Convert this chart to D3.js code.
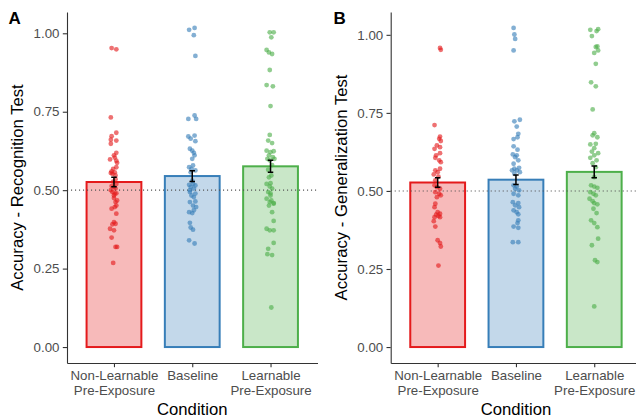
<!DOCTYPE html>
<html>
<head>
<meta charset="utf-8">
<script src="https://cdn.jsdelivr.net/npm/d3@7"></script>
<style>
body { margin: 0; background: #fff; }
svg { display: block; font-family: "Liberation Sans", Arial, sans-serif; }
</style>
</head>
<body>
<div id="chart"></div>
<script>
let width = 636;
let height = 419;

let conditions = [["Non-Learnable", "Pre-Exposure"], ["Baseline"], ["Learnable", "Pre-Exposure"]];
let colours = ["#E41A1C", "#377EB8", "#4DAF4A"];
let yTicks = [0, 0.25, 0.5, 0.75, 1];
let chance = 0.5;

// bar heights and standard errors
let recogMeans = [0.526, 0.545, 0.576];
let recogSE = [0.015, 0.017, 0.019];
let genMeans = [0.527, 0.536, 0.561];
let genSE = [0.015, 0.015, 0.019];

// participants: [jitter (in category units), accuracy]
let recogNonLearnable = [
    [-0.03, 0.953], [0.03, 0.949], [-0.04, 0.732], [0.03, 0.683], [-0.03, 0.672], [-0.04, 0.661],
    [0.03, 0.658], [-0.04, 0.648], [0.03, 0.619], [0, 0.611], [0.01, 0.604], [-0.05, 0.598],
    [0.03, 0.594], [0.03, 0.573], [-0.01, 0.568], [-0.04, 0.555], [0.01, 0.557], [-0.02, 0.552],
    [0.02, 0.547], [-0.03, 0.513], [0, 0.510], [0.02, 0.505], [-0.02, 0.494], [0.01, 0.489],
    [0, 0.483], [0.04, 0.467], [0.02, 0.462], [0.03, 0.451], [0.01, 0.446], [-0.03, 0.441],
    [0.03, 0.425], [0, 0.398], [0.02, 0.393], [-0.02, 0.391], [-0.05, 0.377], [0, 0.372],
    [-0.03, 0.349], [0.02, 0.319], [0.04, 0.319], [-0.01, 0.268], [0.03, 0.520], [-0.01, 0.527],
    [-0.04, 0.500], [0.03, 0.490], [0, 0.475], [0.02, 0.535], [-0.03, 0.560], [0.04, 0.587]
];
let recogBaseline = [
    [-0.04, 1.011], [0.03, 1.017], [0.02, 0.994], [0.04, 0.928], [-0.05, 0.727], [0.03, 0.738],
    [0.05, 0.727], [-0.05, 0.671], [-0.02, 0.664], [0.03, 0.674], [0.04, 0.656], [-0.03, 0.632],
    [0, 0.626], [0.02, 0.619], [0.03, 0.611], [-0.04, 0.573], [0.01, 0.579], [0.04, 0.563],
    [-0.02, 0.557], [-0.01, 0.568], [-0.04, 0.517], [0.01, 0.520], [0.04, 0.515], [-0.02, 0.510],
    [0.02, 0.505], [-0.03, 0.494], [0.04, 0.489], [-0.01, 0.483], [0.04, 0.464], [-0.03, 0.462],
    [0.01, 0.451], [0.05, 0.446], [-0.04, 0.430], [0, 0.427], [0.02, 0.436], [-0.03, 0.396],
    [-0.02, 0.381], [0.01, 0.374], [-0.04, 0.340], [0.03, 0.330], [0, 0.530], [-0.03, 0.500],
    [0.02, 0.478], [0, 0.600]
];
let recogLearnable = [
    [-0.01, 1.003], [0.04, 1.003], [0.01, 0.987], [-0.05, 0.947], [-0.02, 0.939], [0.02, 0.934],
    [-0.01, 0.883], [-0.05, 0.835], [0.03, 0.831], [0, 0.768], [-0.01, 0.676], [-0.03, 0.658],
    [0.02, 0.650], [-0.05, 0.626], [0, 0.621], [0.04, 0.624], [-0.02, 0.611], [0.03, 0.605],
    [-0.04, 0.600], [0.05, 0.600], [-0.01, 0.595], [0.01, 0.547], [-0.02, 0.541], [-0.05, 0.520],
    [0, 0.522], [-0.01, 0.512], [0.02, 0.505], [-0.03, 0.494], [0, 0.483], [-0.05, 0.473],
    [-0.01, 0.462], [0.04, 0.459], [-0.02, 0.451], [0.01, 0.467], [0.04, 0.457], [0.02, 0.430],
    [0.04, 0.402], [-0.05, 0.377], [-0.01, 0.372], [0.04, 0.372], [0.04, 0.332], [-0.03, 0.313],
    [-0.04, 0.296], [0.02, 0.293], [0.01, 0.126], [0.02, 0.580], [-0.03, 0.565], [0, 0.490]
];

let genNonLearnable = [
    [0.03, 0.958], [0.04, 0.952], [-0.04, 0.711], [0.03, 0.674], [0.02, 0.667], [0.04, 0.660],
    [-0.01, 0.646], [-0.04, 0.635], [0.03, 0.640], [0.03, 0.621], [-0.02, 0.614], [-0.03, 0.606],
    [0.02, 0.598], [0.04, 0.592], [0.03, 0.571], [-0.03, 0.566], [0, 0.560], [-0.05, 0.553],
    [0.01, 0.546], [-0.03, 0.534], [-0.04, 0.518], [-0.01, 0.512], [0.03, 0.507], [-0.03, 0.496],
    [0.02, 0.491], [0.04, 0.486], [-0.01, 0.480], [-0.03, 0.459], [-0.04, 0.448], [0, 0.432],
    [0.03, 0.427], [-0.02, 0.424], [-0.04, 0.416], [0.01, 0.420], [-0.05, 0.403], [-0.03, 0.386],
    [0.03, 0.416], [0, 0.342], [0.03, 0.333], [0.04, 0.322], [0.01, 0.261]
];
let genBaseline = [
    [-0.03, 1.022], [-0.02, 1.001], [-0.01, 0.987], [-0.03, 0.950], [-0.02, 0.723], [0.05, 0.728],
    [0.01, 0.706], [0.03, 0.683], [0.02, 0.672], [-0.03, 0.666], [-0.03, 0.643], [0.02, 0.632],
    [-0.04, 0.617], [-0.01, 0.608], [0.01, 0.614], [0.03, 0.598], [-0.03, 0.587], [-0.02, 0.571],
    [0.04, 0.574], [0.01, 0.566], [0.05, 0.560], [-0.05, 0.566], [-0.02, 0.555], [-0.03, 0.518],
    [0.01, 0.514], [-0.01, 0.507], [0.04, 0.502], [-0.03, 0.491], [0.03, 0.486], [-0.04, 0.464],
    [0.03, 0.461], [-0.01, 0.454], [0.04, 0.448], [-0.03, 0.438], [0.01, 0.432], [0.03, 0.425],
    [0.03, 0.406], [0.02, 0.397], [-0.03, 0.386], [0.03, 0.382], [-0.04, 0.336], [0.03, 0.336]
];
let genLearnable = [
    [-0.05, 1.016], [0.05, 1.018], [0.03, 1.012], [-0.03, 0.996], [0.04, 0.963], [0.02, 0.961],
    [0.05, 0.950], [0, 0.942], [0.02, 0.907], [-0.04, 0.848], [0.02, 0.835], [-0.02, 0.761],
    [0, 0.685], [-0.02, 0.678], [0.04, 0.672], [-0.05, 0.649], [0.02, 0.651], [0, 0.637],
    [-0.03, 0.626], [0.05, 0.621], [0, 0.614], [-0.05, 0.606], [0.03, 0.598], [-0.02, 0.589],
    [0.02, 0.576], [0, 0.544], [-0.04, 0.518], [0, 0.514], [0.04, 0.510], [-0.05, 0.496],
    [-0.01, 0.491], [0.02, 0.486], [-0.06, 0.475], [-0.02, 0.467], [0, 0.461], [0.04, 0.457],
    [-0.01, 0.443], [0.03, 0.429], [-0.04, 0.406], [0, 0.397], [0.04, 0.384], [0.05, 0.347],
    [-0.03, 0.326], [0.01, 0.278], [0.04, 0.272], [0, 0.130]
];

let tickColour = "#4D4D4D";
let axisColour = "#333";

function drawPanel(svg, props) {
    let g = svg.append('g');

    let x = d3.scaleLinear().domain([0.4, 3.6]).range([props.left, props.left + props.panelWidth]);

    // ggplot-style 5% expansion around [0, max]
    let hi = d3.max(props.groups, grp => d3.max(grp, d => d[1]));
    let y = d3.scaleLinear().domain([-0.05 * hi, hi * 1.05]).range([props.bottom, props.top]);

    let barW = 0.7;
    g.append('g').selectAll('rect')
        .data(props.means)
        .enter().append('rect')
        .attr('x', (d, i) => x(i + 1 - barW / 2))
        .attr('width', x(1 + barW / 2) - x(1 - barW / 2))
        .attr('y', d => y(d))
        .attr('height', d => y(0) - y(d))
        .attr('fill', (d, i) => colours[i])
        .attr('fill-opacity', 0.3)
        .attr('stroke', (d, i) => colours[i])
        .attr('stroke-width', 2);

    g.append('line')
        .attr('x1', props.left).attr('x2', props.left + props.panelWidth)
        .attr('y1', y(chance)).attr('y2', y(chance))
        .attr('stroke', '#555')
        .attr('stroke-width', 1.1)
        .attr('stroke-dasharray', '1.1,2.9');

    props.groups.forEach((grp, i) => {
        g.append('g').selectAll('circle')
            .data(grp)
            .enter().append('circle')
            .attr('cx', d => x(i + 1 + d[0]))
            .attr('cy', d => y(d[1]))
            .attr('r', 2.4)
            .attr('fill', colours[i])
            .attr('fill-opacity', 0.62);
    });

    let capW = 0.035;
    let eb = g.append('g').attr('stroke', '#000').attr('stroke-width', 1.5).attr('fill', 'none');
    props.means.forEach((m, i) => {
        let lo = y(m - props.se[i]), up = y(m + props.se[i]);
        eb.append('path')
            .attr('d', `M${x(i + 1 - capW)},${up}H${x(i + 1 + capW)}M${x(i + 1)},${up}V${lo}M${x(i + 1 - capW)},${lo}H${x(i + 1 + capW)}`);
    });

    // axes
    let yAxis = g.append('g')
        .attr('transform', `translate(${props.left},0)`)
        .call(d3.axisLeft(y).tickValues(yTicks).tickFormat(d3.format('.2f'))
            .tickSize(4.2).tickPadding(3.3).tickSizeOuter(0));
    yAxis.select('.domain').attr('stroke', axisColour).attr('stroke-width', 1.1);
    yAxis.selectAll('.tick line').attr('stroke', axisColour).attr('stroke-width', 1.1);
    yAxis.selectAll('.tick text').attr('fill', tickColour).style('font-size', '13.3px');

    let xAxis = g.append('g')
        .attr('transform', `translate(0,${props.bottom})`)
        .call(d3.axisBottom(x).tickValues([1, 2, 3]).tickFormat('').tickSize(4.2).tickSizeOuter(0));
    xAxis.select('.domain').attr('stroke', axisColour).attr('stroke-width', 1.1);
    xAxis.selectAll('.tick line').attr('stroke', axisColour).attr('stroke-width', 1.1);
    xAxis.selectAll('.tick text').remove();
    xAxis.selectAll('.tick').each(function (d) {
        let t = d3.select(this).append('text')
            .attr('fill', tickColour)
            .attr('text-anchor', 'middle')
            .style('font-size', '13.3px');
        conditions[d - 1].forEach((line, k) => {
            t.append('tspan').attr('x', 0).attr('y', 17 + k * 15).text(line);
        });
    });

    let cx = props.left + props.panelWidth / 2;
    g.append('text')
        .attr('x', cx).attr('y', 415)
        .attr('text-anchor', 'middle')
        .style('font-size', '16.7px')
        .text('Condition');

    g.append('text')
        .attr('transform', `translate(${props.left - 44},${(props.top + props.bottom) / 2}) rotate(-90)`)
        .attr('text-anchor', 'middle')
        .style('font-size', '16.7px')
        .text(props.yTitle);

    g.append('text')
        .attr('x', props.labelX).attr('y', 24)
        .style('font-size', '17px')
        .style('font-weight', 'bold')
        .text(props.label);

    return g;
}

let svg = d3.select('#chart').append('svg')
    .attr('width', width)
    .attr('height', height);

drawPanel(svg, {
    left: 67, panelWidth: 250.5, top: 12, bottom: 363, labelX: 8.5,
    label: 'A', yTitle: 'Accuracy - Recognition Test',
    means: recogMeans, se: recogSE,
    groups: [recogNonLearnable, recogBaseline, recogLearnable]
});

drawPanel(svg, {
    left: 390.7, panelWidth: 250.5, top: 12, bottom: 363, labelX: 333.5,
    label: 'B', yTitle: 'Accuracy - Generalization Test',
    means: genMeans, se: genSE,
    groups: [genNonLearnable, genBaseline, genLearnable]
});
</script>
</body>
</html>
